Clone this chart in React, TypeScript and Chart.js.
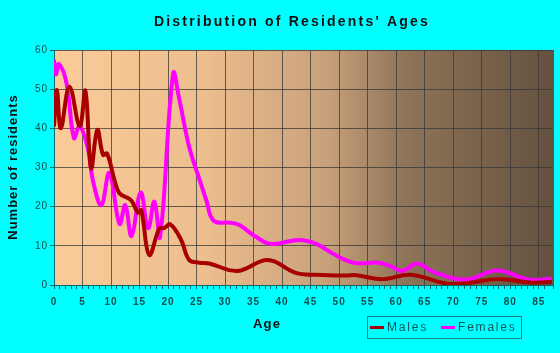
import React, { useEffect, useRef } from 'react';
import { Chart, registerables } from 'chart.js';

Chart.register(...registerables);

const TITLE = "Distribution of Residents' Ages";
const X_TITLE = 'Age';
const Y_TITLE = 'Number of residents';

const maleAges = [0, 0.5, 1.2, 2.7, 4.5, 5.5, 6.5, 7.6, 8.6, 9.3, 10.6, 11.5, 13.5, 14.7, 15.3, 16.7, 18.5, 19.3, 20.4, 22.3, 23.7, 25.5, 27.2, 32.2, 37.5, 42.4, 45.9, 51.2, 53, 57.6, 62.5, 68.7, 72.2, 77.7, 83.8, 87.3];
const maleCounts = [40.5, 49.8, 40, 50.6, 40.6, 49.6, 29.8, 39.6, 33.2, 33.6, 26.8, 23.4, 21.7, 18.5, 19.1, 7.7, 14.5, 14.5, 15.5, 11.5, 6.4, 5.7, 5.5, 3.6, 6.4, 3.1, 2.6, 2.4, 2.5, 1.5, 2.6, 0.4, 0.4, 1.5, 0.6, 0.8];

const femaleAges = [0, 0.35, 0.85, 2.2, 3.5, 4.5, 6, 6.8, 8.3, 9.7, 11.5, 12.5, 13.6, 15.2, 16.5, 17.6, 18.6, 20.9, 22, 23.7, 25.5, 26.7, 28, 31, 32.5, 35.4, 38, 43, 46, 48.8, 52.5, 57, 59, 61.1, 63.7, 66.6, 72.2, 77.7, 83.2, 87.3];
const femaleCounts = [57.5, 53.8, 56.4, 51.5, 37.5, 40.6, 34.5, 26.8, 20.4, 28.6, 15.6, 20.4, 12.5, 23.6, 14.5, 21.3, 12.3, 54, 47.2, 35.3, 27, 21.7, 16.4, 15.9, 15.3, 12.3, 10.5, 11.5, 10.5, 8.1, 5.7, 5.7, 4.8, 3.6, 5.5, 3.3, 1.4, 3.7, 1.4, 1.6];

const X_MIN = 0;
const X_MAX = 87.5;
const X_STEP = 1;
const X_LABEL_STEP = 5;
const Y_MIN = 0;
const Y_MAX = 60;
const Y_STEP = 10;

const FONT = "'Liberation Sans', Arial, sans-serif";
const TEAL_TEXT = '#0d4d4d';
const TEAL_LINE = '#0a6a6a';
const GRID = 'rgba(55,55,55,0.75)';
const MALE_COLOR = '#a80000';
const FEMALE_COLOR = '#ff00ff';

const decorPlugin = {
  id: 'decor',
  beforeDraw(chart: any) {
    const { ctx, chartArea: a, width, height } = chart;
    ctx.save();
    ctx.fillStyle = '#00ffff';
    ctx.fillRect(0, 0, width, height);
    const g = ctx.createLinearGradient(a.left, 0, a.right, 0);
    g.addColorStop(0, '#fbcb98');
    g.addColorStop(0.3, '#edbe8e');
    g.addColorStop(0.55, '#c7a07a');
    g.addColorStop(0.7, '#8f7559');
    g.addColorStop(1, '#645140');
    ctx.fillStyle = g;
    ctx.fillRect(a.left, a.top, a.right - a.left, a.bottom - a.top);
    ctx.restore();
    ctx.letterSpacing = '1px';
  },
  afterDraw(chart: any) {
    const { ctx } = chart;
    ctx.save();
    ctx.textBaseline = 'middle';
    ctx.fillStyle = '#111111';
    // title
    ctx.font = `bold 14px ${FONT}`;
    ctx.letterSpacing = '2.2px';
    ctx.textAlign = 'center';
    ctx.fillText(TITLE, 292, 22);
    // x title
    ctx.font = `bold 13px ${FONT}`;
    ctx.letterSpacing = '1.2px';
    ctx.fillText(X_TITLE, 267, 324);
    // y title
    ctx.save();
    ctx.translate(13, 167);
    ctx.rotate(-Math.PI / 2);
    ctx.letterSpacing = '1px';
    ctx.fillText(Y_TITLE, 0, 0);
    ctx.restore();
    // legend
    ctx.letterSpacing = '0px';
    ctx.strokeStyle = '#1f7f7f';
    ctx.lineWidth = 1;
    ctx.strokeRect(367.5, 316.5, 154, 22);
    const items = chart.data.datasets.map((d: any) => ({ label: d.label, color: d.borderColor }));
    const xs = [370, 441];
    ctx.font = `12px ${FONT}`;
    ctx.letterSpacing = '1.8px';
    ctx.textAlign = 'left';
    items.forEach((it: any, i: number) => {
      ctx.fillStyle = it.color;
      ctx.fillRect(xs[i], 326, 14, 3);
      ctx.fillStyle = '#115555';
      ctx.fillText(it.label, xs[i] + 17, 328);
    });
    ctx.restore();
  },
};

export default function App() {
  const ref = useRef<HTMLCanvasElement>(null);
  useEffect(() => {
    document.body.style.margin = '0';
    const canvas = ref.current;
    if (!canvas) return;
    const chart = new Chart(canvas, {
      type: 'line',
      data: {
        datasets: [
          {
            label: 'Males',
            data: maleAges.map((x, i) => ({ x, y: maleCounts[i] })),
            borderColor: MALE_COLOR,
            backgroundColor: MALE_COLOR,
            borderWidth: 4,
            pointRadius: 0,
            tension: 0.4,
            fill: false,
          },
          {
            label: 'Females',
            data: femaleAges.map((x, i) => ({ x, y: femaleCounts[i] })),
            borderColor: FEMALE_COLOR,
            backgroundColor: FEMALE_COLOR,
            borderWidth: 4,
            pointRadius: 0,
            tension: 0.4,
            fill: false,
          },
        ],
      },
      options: {
        responsive: false,
        animation: false,
        layout: { padding: { top: 50, right: 6, left: 0, bottom: 0 } },
        plugins: {
          legend: { display: false },
          title: { display: false },
          tooltip: { enabled: false },
        },
        scales: {
          x: {
            type: 'linear',
            min: X_MIN,
            max: X_MAX,
            afterFit(s: any) {
              s.height = 68;
            },
            ticks: {
              stepSize: X_STEP,
              autoSkip: false,
              maxRotation: 0,
              padding: 7,
              color: TEAL_TEXT,
              font: { family: FONT, size: 10, weight: 'bold' },
              callback: (v: any) => (Number(v) % X_LABEL_STEP === 0 ? String(v) : ''),
            },
            grid: {
              color: (c: any) => (c.tick && Number(c.tick.value) % X_LABEL_STEP === 0 ? GRID : c.tick && c.tick.value === X_MAX ? GRID : 'transparent'),
              tickColor: TEAL_LINE,
              tickLength: 4,
              drawTicks: true,
            },
            border: { color: TEAL_LINE, width: 1 },
          },
          y: {
            min: Y_MIN,
            max: Y_MAX,
            afterFit(s: any) {
              s.width = 54;
            },
            ticks: {
              stepSize: Y_STEP,
              padding: 2,
              color: TEAL_TEXT,
              font: { family: FONT, size: 10 },
            },
            grid: {
              color: GRID,
              tickColor: TEAL_LINE,
              tickLength: 4,
            },
            border: { color: TEAL_LINE, width: 1 },
          },
        },
      },
      plugins: [decorPlugin],
    } as any);
    return () => chart.destroy();
  }, []);
  return (
    <div style={{ width: 560, height: 353 }}>
      <canvas ref={ref} width={560} height={353} style={{ display: 'block' }} />
    </div>
  );
}
